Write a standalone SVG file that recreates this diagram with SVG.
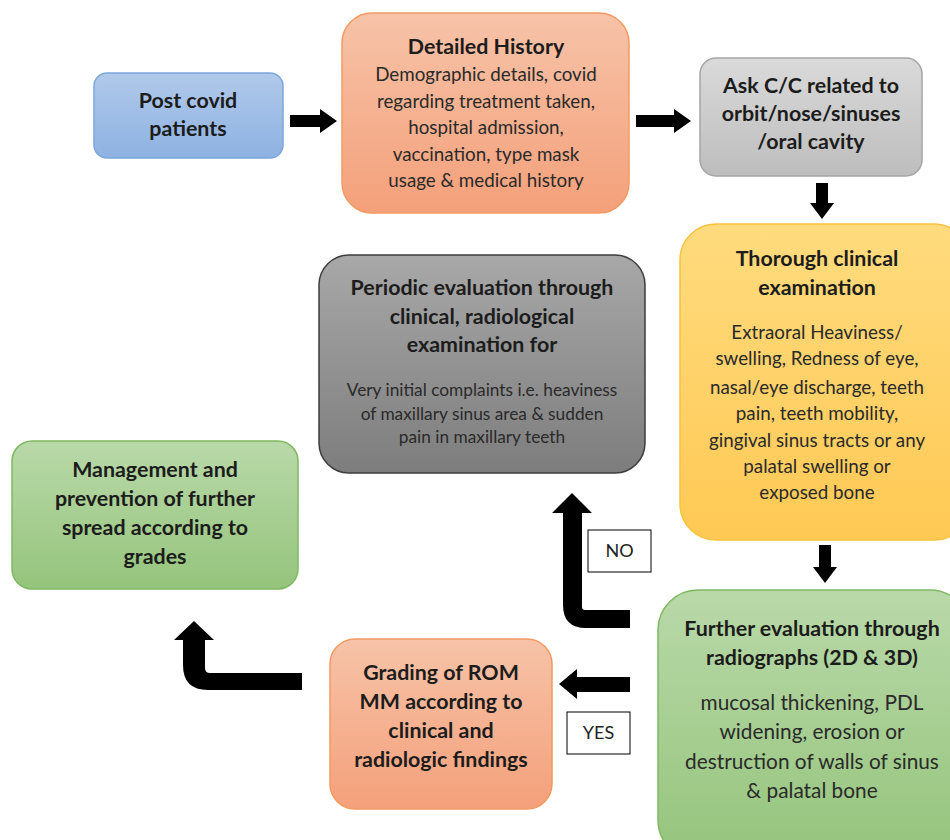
<svg xmlns="http://www.w3.org/2000/svg" width="950" height="840" viewBox="0 0 950 840">
<defs>
<linearGradient id="gBlue" x1="0" y1="0" x2="0" y2="1"><stop offset="0" stop-color="#b1c9ea"/><stop offset="1" stop-color="#8db2e2"/></linearGradient>
<linearGradient id="gOrange" x1="0" y1="0" x2="0" y2="1"><stop offset="0" stop-color="#f7c3a8"/><stop offset="1" stop-color="#f4a07a"/></linearGradient>
<linearGradient id="gGray" x1="0" y1="0" x2="0" y2="1"><stop offset="0" stop-color="#dadada"/><stop offset="1" stop-color="#bdbdbd"/></linearGradient>
<linearGradient id="gYellow" x1="0" y1="0" x2="0" y2="1"><stop offset="0" stop-color="#ffdb7e"/><stop offset="1" stop-color="#ffc954"/></linearGradient>
<linearGradient id="gDark" x1="0" y1="0" x2="0" y2="1"><stop offset="0" stop-color="#a8a8a8"/><stop offset="1" stop-color="#7d7d7d"/></linearGradient>
<linearGradient id="gGreen" x1="0" y1="0" x2="0" y2="1"><stop offset="0" stop-color="#b9d9a9"/><stop offset="1" stop-color="#95c47c"/></linearGradient>
</defs>
<style>
text{font-family:Lato,"Open Sans","Liberation Sans",sans-serif;text-anchor:middle;fill:#1c1c1c}
.t{font-weight:bold;font-size:21.4px}
.b{font-size:18.8px;fill:#2a2a2a}
.s{font-size:17.3px;fill:#2a2a2a}
.f{font-size:20.8px;fill:#2a2a2a}
.lbl{font-size:18px;fill:#222}
.arrow{fill:#000}
</style>
<rect width="950" height="840" fill="#fff"/>
<g id="connectors">
<path class="arrow" d="M290,115 H320 V109 L337,121 L320,133 V127 H290 Z"/>
<path class="arrow" d="M636,115 H674 V109 L691,121 L674,133 V127 H636 Z"/>
<path class="arrow" d="M816,183 V203 H810 L822,219 L834,203 H828 V183 Z"/>
<path class="arrow" d="M819,545 V567 H813 L825,583 L837,567 H831 V545 Z"/>
<path class="arrow" d="M630,677 H577 V669 L559,684 L577,699 V692 H630 Z"/>
<path class="arrow" d="M630,610 H585 Q582,610 582,607 V513 H592 L572,493 L552,513 H563 V605 Q563,628 586,628 H630 Z"/>
<path class="arrow" d="M302,673 H210 Q205,673 205,668 V640 H214 L194,621 L174,640 H183 V665 Q183,690 208,690 H302 Z"/>
<rect x="588" y="530" width="63" height="42" fill="#fff" stroke="#000" stroke-width="1"/>
<text class="lbl" x="619.5" y="557">NO</text>
<rect x="567" y="712" width="63" height="42" fill="#fff" stroke="#000" stroke-width="1"/>
<text class="lbl" x="598.5" y="739">YES</text>
</g>
<g id="post-covid">
<rect x="94" y="73" width="189" height="85" rx="13" fill="url(#gBlue)" stroke="#7ea6da" stroke-width="1.5"/>
<text class="t" x="188" y="108">Post covid</text>
<text class="t" x="188" y="136">patients</text>
</g>
<g id="detailed-history">
<rect x="342" y="13" width="287" height="200" rx="30" fill="url(#gOrange)" stroke="#f29a62" stroke-width="1.5"/>
<text class="t" x="486" y="54">Detailed History</text>
<text class="b" x="486" y="81">Demographic details, covid</text>
<text class="b" x="486" y="108">regarding treatment taken,</text>
<text class="b" x="486" y="134">hospital admission,</text>
<text class="b" x="486" y="161">vaccination, type mask</text>
<text class="b" x="486" y="187">usage &amp; medical history</text>
</g>
<g id="ask-cc">
<rect x="700" y="58" width="222" height="118" rx="16" fill="url(#gGray)" stroke="#a5a5a5" stroke-width="1.5"/>
<text class="t" x="811" y="93">Ask C/C related to</text>
<text class="t" x="811" y="121">orbit/nose/sinuses</text>
<text class="t" x="811" y="149">/oral cavity</text>
</g>
<g id="thorough">
<rect x="680" y="224" width="290" height="316" rx="36" fill="url(#gYellow)" stroke="#f9c23c" stroke-width="1.5"/>
<text class="t" x="817" y="266">Thorough clinical</text>
<text class="t" x="817" y="295">examination</text>
<text class="b" x="817" y="339">Extraoral Heaviness/</text>
<text class="b" x="817" y="365">swelling, Redness of eye,</text>
<text class="b" x="817" y="394">nasal/eye discharge, teeth</text>
<text class="b" x="817" y="420">pain, teeth mobility,</text>
<text class="b" x="817" y="447">gingival sinus tracts or any</text>
<text class="b" x="817" y="473">palatal swelling or</text>
<text class="b" x="817" y="499">exposed bone</text>
</g>
<g id="periodic">
<rect x="319" y="255" width="326" height="218" rx="30" fill="url(#gDark)" stroke="#3d3d3d" stroke-width="1.5"/>
<text class="t" x="482" y="295">Periodic evaluation through</text>
<text class="t" x="482" y="324">clinical, radiological</text>
<text class="t" x="482" y="352">examination for</text>
<text class="s" x="482" y="396">Very initial complaints i.e. heaviness</text>
<text class="s" x="482" y="420">of maxillary sinus area &amp; sudden</text>
<text class="s" x="482" y="443">pain in maxillary teeth</text>
</g>
<g id="management">
<rect x="12" y="441" width="286" height="148" rx="20" fill="url(#gGreen)" stroke="#7fb861" stroke-width="1.5"/>
<text class="t" x="155" y="477">Management and</text>
<text class="t" x="155" y="506">prevention of further</text>
<text class="t" x="155" y="535">spread according to</text>
<text class="t" x="155" y="564">grades</text>
</g>
<g id="grading">
<rect x="330" y="639" width="222" height="170" rx="25" fill="url(#gOrange)" stroke="#f29a62" stroke-width="1.5"/>
<text class="t" x="441" y="680">Grading of ROM</text>
<text class="t" x="441" y="709">MM according to</text>
<text class="t" x="441" y="738">clinical and</text>
<text class="t" x="441" y="767">radiologic findings</text>
</g>
<g id="further">
<rect x="658" y="590" width="312" height="270" rx="40" fill="url(#gGreen)" stroke="#7fb861" stroke-width="1.5"/>
<text class="t" x="812" y="636">Further evaluation through</text>
<text class="t" x="812" y="665">radiographs (2D &amp; 3D)</text>
<text class="f" x="812" y="710">mucosal thickening, PDL</text>
<text class="f" x="812" y="739">widening, erosion or</text>
<text class="f" x="812" y="769">destruction of walls of sinus</text>
<text class="f" x="812" y="798">&amp; palatal bone</text>
</g>
</svg>
